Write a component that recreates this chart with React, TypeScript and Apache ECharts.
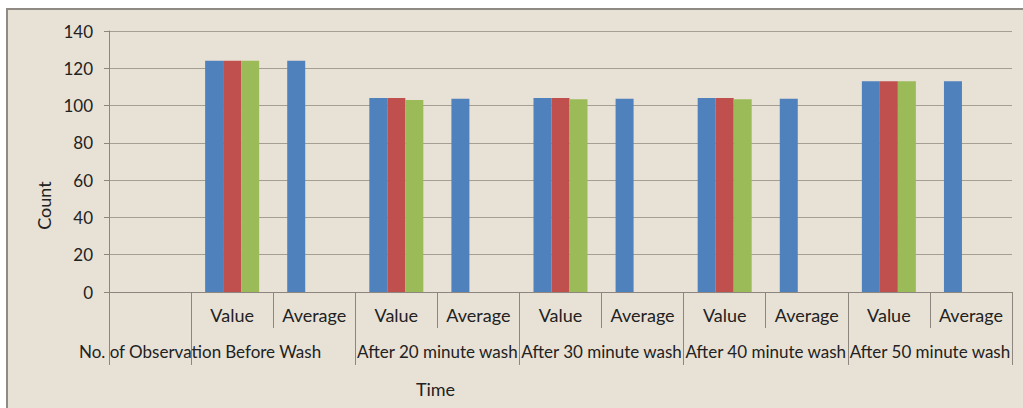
import React, { useEffect, useRef } from "react";
import * as echarts from "echarts";

const groups = [
  "No. of Observation",
  "Before Wash",
  "After 20 minute wash",
  "After 30 minute wash",
  "After 40 minute wash",
  "After 50 minute wash",
];
const subLabels = ["Value", "Average"];
const yTicks = [0, 20, 40, 60, 80, 100, 120, 140];

// values per category slot: [No. of Observation, BW Value, BW Avg, 20 Value, 20 Avg, ...]
const series1 = [null, 124, 124, 104, 103.6, 104, 103.6, 104, 103.6, 113, 113];
const series2 = [null, 124, null, 104, null, 104, null, 104, null, 113, null];
const series3 = [null, 124, null, 103, null, 103.4, null, 103.4, null, 113, null];

const FONT = "Lato";
const TXT = "#222222";
const GRID = "#a59e93";

export default function App() {
  const ref = useRef<HTMLDivElement>(null);
  useEffect(() => {
    if (!ref.current) return;
    const chart = echarts.init(ref.current, undefined, { renderer: "svg" });

    const primary: string[] = [""];
    for (let g = 1; g < groups.length; g++) primary.push(...subLabels);

    const halfCount = primary.length * 2 + 1;
    const secondary: string[] = new Array(halfCount).fill("");
    secondary[1] = groups[0];
    for (let g = 1; g < groups.length; g++) secondary[4 * g] = groups[g];
    const dividers = new Set<number>([0, 2]);
    for (let g = 1; g < groups.length; g++) dividers.add(2 + 4 * g);
    const labelIdx = new Set<number>([1]);
    for (let g = 1; g < groups.length; g++) labelIdx.add(4 * g);

    chart.setOption({
      animation: false,
      backgroundColor: "#ffffff",
      graphic: [
        {
          type: "rect",
          shape: { x: 7, y: 9, width: 1030, height: 420 },
          style: { fill: "#e8e1d5", stroke: "#8f8a84", lineWidth: 2 },
          z: -10,
          silent: true,
        },
      ],
      grid: { left: 109, right: 11, top: 31, bottom: 116, containLabel: false },
      xAxis: [
        {
          type: "category",
          data: primary,
          position: "bottom",
          axisLine: { show: true, lineStyle: { color: "#8c867e", width: 1 } },
          axisTick: { show: true, length: 36, interval: 0, lineStyle: { color: "#8c867e" } },
          axisLabel: {
            interval: 0,
            color: TXT,
            fontFamily: FONT,
            fontSize: 18,
            margin: 14,
          },
          splitLine: { show: false },
        },
        {
          type: "category",
          data: secondary,
          position: "bottom",
          boundaryGap: false,
          axisLine: { show: false },
          axisTick: {
            show: true,
            length: 73,
            interval: (i: number) => dividers.has(i),
            lineStyle: { color: "#8c867e" },
          },
          axisLabel: {
            interval: (i: number) => labelIdx.has(i),
            color: TXT,
            fontFamily: FONT,
            fontSize: 17,
            margin: 51,
          },
          name: "Time",
          nameLocation: "middle",
          nameGap: 88,
          nameTextStyle: { color: TXT, fontFamily: FONT, fontSize: 18, padding: [0, 250, 0, 0] },
        },
      ],
      yAxis: {
        type: "value",
        min: 0,
        max: 140,
        interval: 20,
        name: "Count",
        nameLocation: "middle",
        nameGap: 56,
        nameTextStyle: { color: TXT, fontFamily: FONT, fontSize: 18, padding: [0, 88, 0, 0] },
        axisLine: { show: true, lineStyle: { color: "#8c867e" } },
        axisTick: { show: true, length: 5, lineStyle: { color: "#8c867e" } },
        axisLabel: {
          color: TXT,
          fontFamily: FONT,
          fontSize: 17,
          margin: 16,
          formatter: (v: number) => (yTicks.includes(v) ? String(v) : ""),
        },
        splitLine: { show: true, lineStyle: { color: GRID, width: 1 } },
      },
      series: [
        { type: "bar", data: series1, barWidth: 18, barGap: "0%", itemStyle: { color: "#4f81bd" } },
        { type: "bar", data: series2, barWidth: 18, barGap: "0%", itemStyle: { color: "#c0504d" } },
        { type: "bar", data: series3, barWidth: 18, barGap: "0%", itemStyle: { color: "#9bbb59" } },
      ],
    });
    return () => chart.dispose();
  }, []);
  return (
    <div
      ref={ref}
      style={{ position: "fixed", left: 0, top: 0, width: 1023, height: 408 }}
    />
  );
}
